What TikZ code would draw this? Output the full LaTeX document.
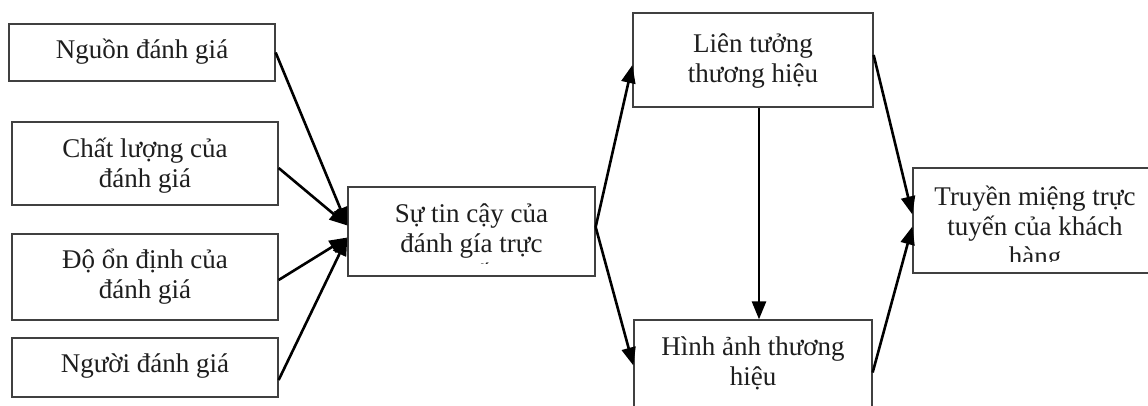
\documentclass[tikz,border=0pt]{standalone}
\usepackage{fontspec}
\setmainfont{Liberation Serif}
\usetikzlibrary{arrows.meta}
\definecolor{boxc}{HTML}{404040}
\definecolor{txtc}{HTML}{1E1E1E}
\tikzset{
  box/.style={draw=boxc, line width=1.3pt, inner sep=0pt, fill=none},
  lbl/.style={inner sep=0pt, align=center, text=txtc, font=\fontsize{27}{30}\selectfont, anchor=north},
  arr/.style={line width=2.6pt, draw=black, -{Triangle[length=18pt,width=14pt]}}
}
\begin{document}
\begin{tikzpicture}[x=1pt,y=-1pt]
\useasboundingbox (0,0) rectangle (1148,405);
\clip (0,0) rectangle (1148,405);
\fill[white] (0,0) rectangle (1148,405);

% boxes
\node[box, minimum width=266pt, minimum height=57pt] (n1) at (142,52.5) {};
\node[box, minimum width=266pt, minimum height=83pt] (n2) at (145,163.5) {};
\node[box, minimum width=266pt, minimum height=86pt] (n3) at (145,277) {};
\node[box, minimum width=266pt, minimum height=59pt] (n4) at (145,367.5) {};
\node[box, minimum width=247pt, minimum height=89pt] (c) at (471.5,231.5) {};
\node[box, minimum width=240pt, minimum height=94pt] (L) at (753,60) {};
\node[box, minimum width=238pt, minimum height=105pt] (H) at (753,372.5) {};
\node[box, minimum width=244pt, minimum height=105pt] (T) at (1035,220.5) {};

% texts
\node[lbl] (n1t) at (142,37) {\strut Nguồn đánh giá};
\node[lbl] (n2t) at (145,136) {\strut Chất lượng của\\\strut đánh giá};
\node[lbl] (n3t) at (145,247) {\strut Độ ổn định của\\\strut đánh giá};
\node[lbl] (n4t) at (145,351) {\strut Người đánh giá};
\begin{scope}
  \clip (349,188) rectangle (594,263);
  \node[lbl] (ct) at (471.5,201) {\strut Sự tin cậy của\\\strut đánh gía trực\\\strut tuyến};
\end{scope}
\node[lbl] (Lt) at (753,31) {\strut Liên tưởng\\\strut thương hiệu};
\node[lbl] (Ht) at (753,334) {\strut Hình ảnh thương\\\strut hiệu};
\begin{scope}
  \clip (914,169) rectangle (1148,261);
  \node[lbl] (Tt) at (1035,184) {\strut Truyền miệng trực\\\strut tuyến của khách\\\strut hàng};
\end{scope}

% connectors
\draw[arr] (n1.east) -- ([yshift=6pt]c.west);
\draw[arr] ([yshift=-4.5pt]n2.east) -- ([yshift=6pt]c.west);
\draw[arr] ([yshift=-3pt]n3.east) -- ([yshift=-6pt]c.west);
\draw[arr] ([yshift=-12.5pt]n4.east) -- ([yshift=-6pt]c.west);
\draw[arr] ([yshift=4.5pt]c.east) -- ([yshift=-5pt]L.west);
\draw[arr] ([yshift=4.5pt]c.east) -- ([yshift=7pt]H.west);
\draw[arr] ([xshift=6pt]L.south) -- ([xshift=6pt]H.north);
\draw[arr] ([yshift=5pt]L.east) -- ([yshift=6pt]T.west);
\draw[arr] (H.east) -- ([yshift=-6pt]T.west);
\end{tikzpicture}
\end{document}
